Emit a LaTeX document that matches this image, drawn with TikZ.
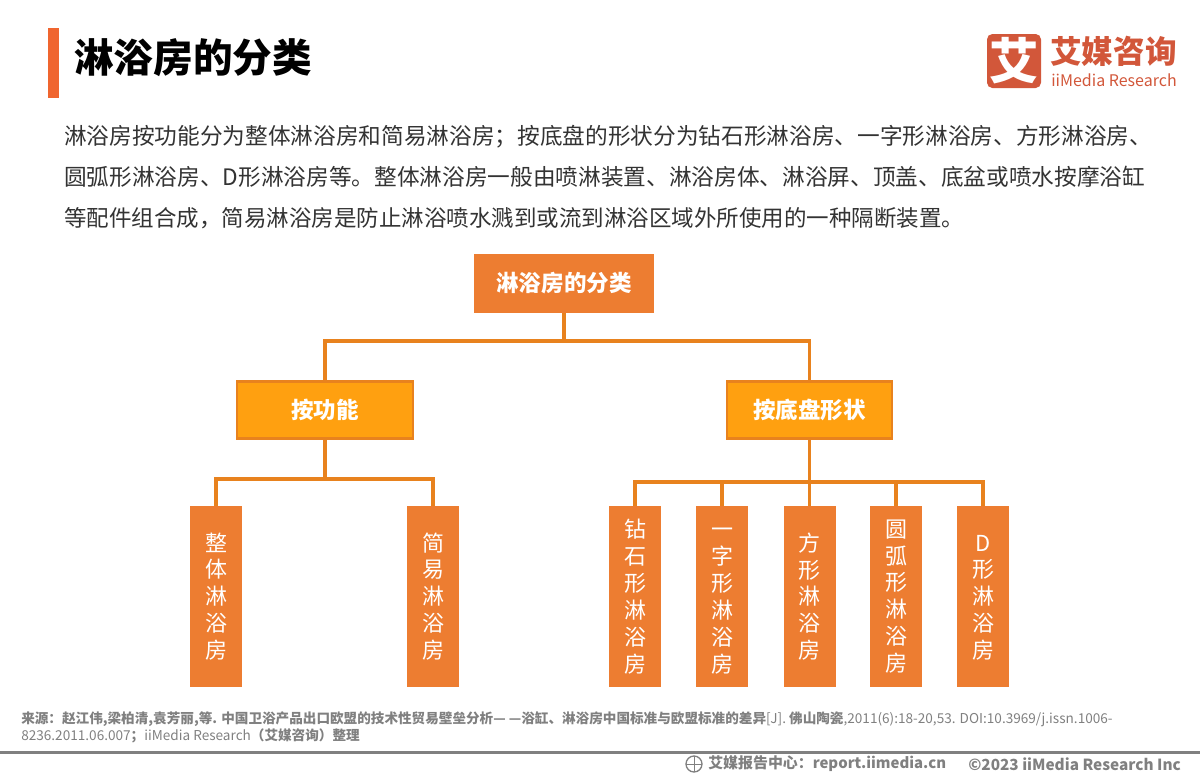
\documentclass[tikz,border=0pt]{standalone}
\usepackage{fontspec}
\setmainfont{Noto Sans CJK SC}
\newcommand{\pxfont}[2]{\fontsize{#1}{#2}\selectfont}
\definecolor{barC}{HTML}{F0652F}
\definecolor{logoC}{HTML}{D2573A}
\definecolor{lineC}{HTML}{E8821E}
\definecolor{leafC}{HTML}{ED7D31}
\definecolor{midC}{HTML}{FFA010}
\definecolor{bodyC}{HTML}{333333}
\definecolor{srcC}{HTML}{808080}
\tikzset{
  x=0.75pt,y=-0.75pt,
  topbox/.style={fill=leafC,draw=none,minimum width=135pt,minimum height=44.25pt,inner sep=0pt,text=white,font=\bfseries\pxfont{16.9}{20}},
  midbox/.style={fill=midC,draw=lineC,line width=1.8pt,minimum height=42.5pt,inner sep=0pt,text=white,font=\bfseries\pxfont{16.9}{20}},
  leafbox/.style={fill=leafC,draw=none,minimum width=39pt,minimum height=135.75pt,inner sep=0pt,text=white,align=center,font=\pxfont{16.5}{20.2}},
  conn/.style={draw=lineC,line width=2.4pt},
  bodytext/.style={anchor=west,inner sep=0pt,text=bodyC,font=\pxfont{17}{20}},
  srctext/.style={anchor=west,inner sep=0pt,text=srcC,font=\bfseries\pxfont{10.2}{12}},
  foottext/.style={anchor=west,inner sep=0pt,text=srcC,font=\bfseries\pxfont{11.2}{14}},
}
\begin{document}
\begin{tikzpicture}
\useasboundingbox (0,0) rectangle (1200,779);
% header
\fill[barC] (48,28) rectangle (59,98);
\node[anchor=west,inner sep=0pt,text=black,font=\bfseries\pxfont{29.7}{34}] (title) at (74,58) {淋浴房的分类};
% logo
\fill[logoC,rounded corners=4pt] (987,34) rectangle (1041,88);
\node[inner sep=0pt,text=white,font=\bfseries\pxfont{37}{40}] (logomark) at (1014,61) {艾};
\node[anchor=west,inner sep=0pt,text=logoC,font=\bfseries\pxfont{23.7}{26}] (logocn) at (1050,51) {艾媒咨询};
\node[anchor=west,inner sep=0pt,text=logoC,font=\pxfont{12}{14}] (logoen) at (1051,80) {iiMedia Research};
% body
\node[bodytext] (l1) at (64,137) {淋浴房按功能分为整体淋浴房和简易淋浴房；按底盘的形状分为钻石形淋浴房、一字形淋浴房、方形淋浴房、};
\node[bodytext] (l2) at (64,177) {圆弧形淋浴房、D形淋浴房等。整体淋浴房一般由喷淋装置、淋浴房体、淋浴屏、顶盖、底盆或喷水按摩浴缸};
\node[bodytext,font=\pxfont{16.87}{20}] (l3) at (64,218) {等配件组合成，简易淋浴房是防止淋浴喷水溅到或流到淋浴区域外所使用的一种隔断装置。};
% tree
\node[topbox] (root) at (564,283.5) {淋浴房的分类};
\node[midbox,minimum width=132pt] (fn) at (325,410) {按功能};
\node[midbox,minimum width=123.5pt] (sh) at (809.5,410) {按底盘形状};
\node[leafbox] (a1) at (216,596.5) {整\\体\\淋\\浴\\房};
\node[leafbox] (a2) at (433,596.5) {简\\易\\淋\\浴\\房};
\node[leafbox] (b1) at (635,596.5) {钻\\石\\形\\淋\\浴\\房};
\node[leafbox] (b2) at (722,596.5) {\vphantom{钻}一\\字\\形\\淋\\浴\\房};
\node[leafbox] (b3) at (809.5,596.5) {方\\形\\淋\\浴\\房};
\node[leafbox] (b4) at (896,596.5) {圆\\弧\\形\\淋\\浴\\房};
\node[leafbox] (b5) at (983,596.5) {\vphantom{钻}D\\形\\淋\\浴\\房};
\coordinate (busR) at (564,341);
\coordinate (busA) at (325,479);
\coordinate (busB) at (809.5,482);
\draw[conn] (root.south) -- (busR);
\draw[conn] (fn.north) |- (busR);
\draw[conn] (sh.north) |- (busR);
\draw[conn] (fn.south) -- (busA);
\draw[conn] (a1.north) |- (busA);
\draw[conn] (a2.north) |- (busA);
\draw[conn] (sh.south) -- (busB);
\draw[conn] (b1.north) |- (busB);
\draw[conn] (b2.north) |- (busB);
\draw[conn] (b3.north) -- (busB);
\draw[conn] (b4.north) |- (busB);
\draw[conn] (b5.north) |- (busB);
% source
\node[srctext] (s1) at (21,719) {来源：赵江伟,梁柏清,袁芳丽,等. 中国卫浴产品出口欧盟的技术性贸易壁垒分析— —浴缸、淋浴房中国标准与欧盟标准的差异{\mdseries [J].} 佛山陶瓷{\mdseries ,2011(6):18-20,53. DOI:10.3969/j.issn.1006-}};
\node[srctext] (s2) at (21,736) {{\mdseries 8236.2011.06.007}；{\mdseries iiMedia Research}（艾媒咨询）整理};
% footer
\fill[srcC] (0,751) rectangle (1200,754);
\draw[srcC,line width=1pt] (694,764) circle (8);
\draw[srcC,line width=0.6pt] (686,764) -- (702,764) (694,756) -- (694,772);
\node[foottext] (f1) at (708,764) {艾媒报告中心：report.iimedia.cn};
\node[foottext,font=\bfseries\pxfont{11.5}{14}] (f2) at (968,764) {©2023 iiMedia Research Inc};
\end{tikzpicture}
\end{document}
